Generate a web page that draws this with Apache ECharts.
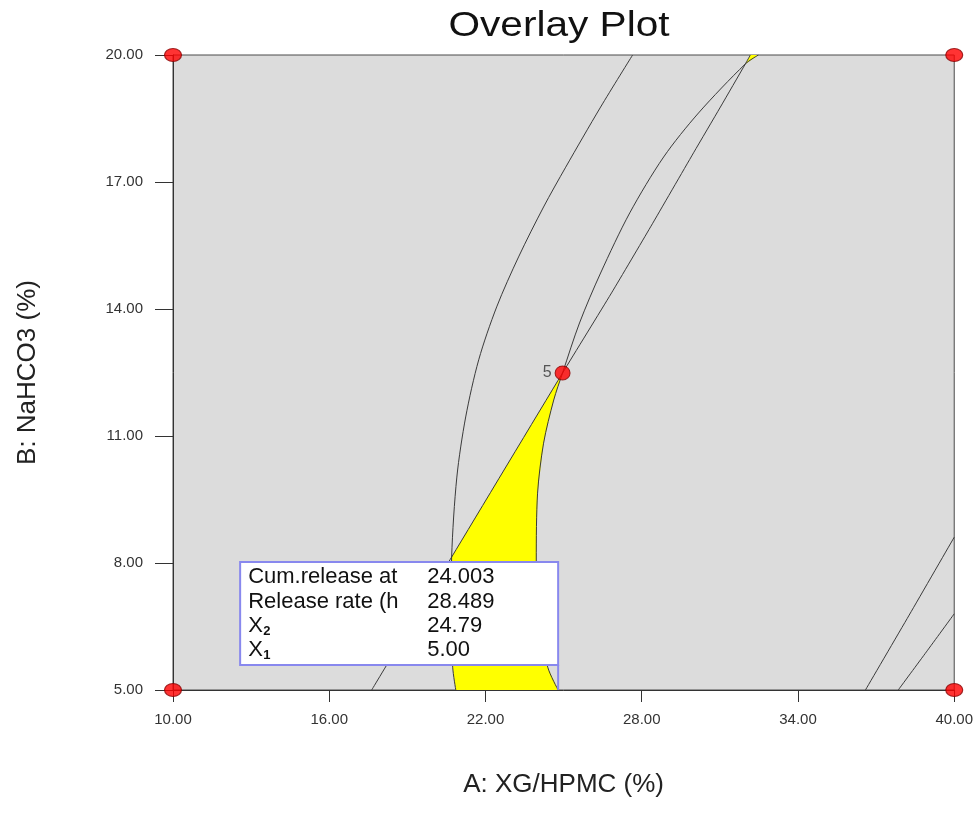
<!DOCTYPE html>
<html>
<head>
<meta charset="utf-8">
<script src="https://cdn.jsdelivr.net/npm/echarts@6/dist/echarts.min.js"></script>
<style>
  html, body { margin: 0; padding: 0; background: #ffffff; }
  #chart { width: 976px; height: 828px; }
</style>
</head>
<body>
<div id="chart"></div>
<script>
// Factorial design points (A: XG/HPMC, B: NaHCO3)
const designPoints = [[10, 5], [10, 20], [40, 5], [40, 20]];
const centerPoint = [[24.96, 12.49]];
const centerLabel = '5';

// Contour boundaries of the overlay (A, B)
const arcA = [[27.65, 20], [26.42, 18.77], [25.08, 17.35], [24.23, 16.41], [23.27, 15.23],
  [22.43, 14.05], [21.74, 12.80], [21.24, 11.45], [20.90, 10.03], [20.70, 8.14],
  [20.68, 6.89], [20.74, 5.54], [20.86, 5.00]];
const lineL = [[17.63, 5.00], [20.70, 8.14], [24.96, 12.49], [26.84, 14.38], [28.34, 15.94],
  [29.99, 17.69], [31.02, 18.77], [31.98, 19.79], [32.17, 20]];
const curveC = [[24.79, 5.00], [24.39, 5.54], [24.08, 6.65], [23.95, 8.07], [24.00, 9.65],
  [24.23, 10.83], [24.62, 11.85], [24.96, 12.49], [25.61, 13.67], [26.42, 14.85],
  [27.54, 16.27], [28.84, 17.59], [30.18, 18.63], [31.98, 19.79], [32.48, 20]];
const curveR1 = [[36.59, 5.00], [38.27, 6.77], [40.00, 8.61]];
const curveR2 = [[37.85, 5.00], [38.93, 5.90], [40.00, 6.80]];

// Flag read-out
const flagNames = ['Cum.release at', 'Release rate (h', 'X', 'X'];
const flagSubs = ['', '', '2', '1'];
const flagValues = ['24.003', '28.489', '24.79', '5.00'];
const flagPoint = [[Number(flagValues[2]), Number(flagValues[3])]];

const sameXY = (a, b) => a[0] === b[0] && a[1] === b[1];

// Feasible (yellow) window: lineL down to arcA, arcA down to the axis, curveC back up
function buildWindow() {
  const iAJoin = arcA.findIndex(p => lineL.some(q => sameXY(p, q)));
  const iLJoin = lineL.findIndex(p => sameXY(p, arcA[iAJoin]));
  const iLTop = lineL.findIndex(p => sameXY(p, centerPoint[0]));
  const iCTop = curveC.findIndex(p => sameXY(p, centerPoint[0]));
  const main = [];
  for (let i = iLTop; i >= iLJoin; i--) main.push(lineL[i]);
  for (let i = iAJoin + 1; i < arcA.length; i++) main.push(arcA[i]);
  for (let i = 0; i < iCTop; i++) main.push(curveC[i]);
  const top = [lineL[lineL.length - 2], lineL[lineL.length - 1], curveC[curveC.length - 1]];
  return [main, top];
}
const windows = buildWindow();

const chart = echarts.init(document.getElementById('chart'));
const font = 'Liberation Sans, Arial, sans-serif';

const contour = (data, smooth) => ({
  type: 'line', data: data, showSymbol: false, smooth: smooth, z: 4,
  lineStyle: { color: '#3a3a3a', width: 1 }, silent: true, animation: false
});

chart.setOption({
  animation: false,
  backgroundColor: '#ffffff',
  graphic: [{
    type: 'text', x: 559, y: 26, scaleX: 1.16,
    style: { text: 'Overlay Plot', font: '35px ' + font, fill: '#111111', align: 'center', verticalAlign: 'middle' }
  }],
  grid: {
    left: 173, top: 55, width: 782, height: 635, show: true,
    backgroundColor: '#dcdcdc', borderColor: '#4a4a4a', borderWidth: 1
  },
  xAxis: {
    type: 'value', min: 10, max: 40, interval: 6,
    name: 'A: XG/HPMC (%)', nameLocation: 'middle', nameGap: 82,
    nameTextStyle: { fontSize: 26, color: '#222', fontFamily: font },
    axisLine: { show: true, onZero: false, lineStyle: { color: '#333', width: 1 } },
    axisTick: { show: true, inside: false, length: 12, lineStyle: { color: '#333' } },
    splitLine: { show: false },
    axisLabel: { formatter: v => v.toFixed(2), fontSize: 15, color: '#333', margin: 22, fontFamily: font }
  },
  yAxis: {
    type: 'value', min: 5, max: 20, interval: 3,
    name: 'B: NaHCO3 (%)', nameLocation: 'middle', nameGap: 132, nameRotate: 90,
    nameTextStyle: { fontSize: 26, color: '#222', fontFamily: font },
    axisLine: { show: true, onZero: false, lineStyle: { color: '#333', width: 1 } },
    axisTick: { show: true, inside: false, length: 18, lineStyle: { color: '#333' } },
    splitLine: { show: false },
    axisLabel: { formatter: v => v.toFixed(2), fontSize: 15, color: '#333', margin: 30, fontFamily: font }
  },
  series: [
    {
      type: 'custom', z: 2, silent: true, data: [[0, 0]],
      renderItem: (params, api) => ({
        type: 'group',
        children: windows.map(poly => ({
          type: 'polygon',
          shape: { points: poly.map(p => api.coord(p)) },
          style: { fill: '#ffff00', stroke: 'none' }
        }))
      })
    },
    contour(arcA, 0.3),
    contour(lineL, 0.2),
    contour(curveC, 0.3),
    contour(curveR1, 0.2),
    contour(curveR2, 0.2),
    {
      type: 'custom', z: 6, silent: true, data: flagPoint, clip: false,
      renderItem: (params, api) => {
        const p = api.coord([api.value(0), api.value(1)]);
        const right = p[0], bottom = p[1] - 25, w = 318, h = 103;
        const left = right - w, top = bottom - h;
        const rows = [15, 39.5, 64, 88];
        const children = [
          { type: 'rect', shape: { x: left, y: top, width: w, height: h },
            style: { fill: '#ffffff', stroke: '#8888ee', lineWidth: 2 } },
          { type: 'line', shape: { x1: right, y1: bottom, x2: p[0], y2: p[1] },
            style: { stroke: '#8888ee', lineWidth: 2 } }
        ];
        flagNames.forEach((n, i) => {
          children.push({ type: 'text', x: left + 8, y: top + rows[i],
            style: { text: n, font: '22px ' + font, fill: '#111', align: 'left', verticalAlign: 'middle' } });
          if (flagSubs[i]) {
            children.push({ type: 'text', x: left + 23, y: top + rows[i] + 5,
              style: { text: flagSubs[i], font: 'bold 13px ' + font, fill: '#111', align: 'left', verticalAlign: 'middle' } });
          }
          children.push({ type: 'text', x: left + 187, y: top + rows[i],
            style: { text: flagValues[i], font: '22px ' + font, fill: '#111', align: 'left', verticalAlign: 'middle' } });
        });
        return { type: 'group', children: children };
      }
    },
    {
      type: 'scatter', data: designPoints, clip: false, z: 8,
      symbol: 'circle', symbolSize: [17, 13],
      itemStyle: { color: '#ff0000', borderColor: '#8a0000', borderWidth: 1 }
    },
    {
      type: 'scatter', data: centerPoint, clip: false, z: 8,
      symbol: 'circle', symbolSize: [15, 14],
      itemStyle: { color: '#ff0000', borderColor: '#8a0000', borderWidth: 1 },
      label: { show: true, position: 'left', distance: 3, formatter: centerLabel,
        fontSize: 16, color: '#333', fontFamily: font }
    }
  ]
});
</script>
</body>
</html>
